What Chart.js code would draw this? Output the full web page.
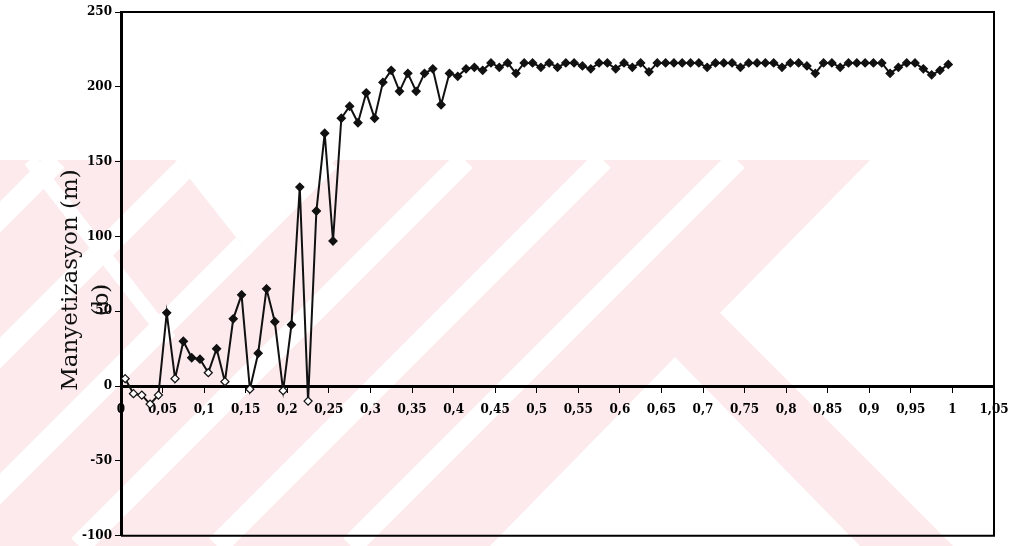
<!DOCTYPE html>
<html>
<head>
<meta charset="utf-8">
<script src="https://cdn.jsdelivr.net/npm/chart.js@4.4.0/dist/chart.umd.min.js"></script>
<style>
html, body { margin: 0; padding: 0; background: #fff; }
</style>
</head>
<body>
<canvas id="myChart" width="1012" height="546"></canvas>
<script>
// data (x = h, y = magnetization)
var xValues = [0.005, 0.015, 0.025, 0.035, 0.045, 0.055, 0.065, 0.075, 0.085, 0.095,
               0.105, 0.115, 0.125, 0.135, 0.145, 0.155, 0.165, 0.175, 0.185, 0.195,
               0.205, 0.215, 0.225, 0.235, 0.245, 0.255, 0.265, 0.275, 0.285, 0.295,
               0.305, 0.315, 0.325, 0.335, 0.345, 0.355, 0.365, 0.375, 0.385, 0.395,
               0.405, 0.415, 0.425, 0.435, 0.445, 0.455, 0.465, 0.475, 0.485, 0.495,
               0.505, 0.515, 0.525, 0.535, 0.545, 0.555, 0.565, 0.575, 0.585, 0.595,
               0.605, 0.615, 0.625, 0.635, 0.645, 0.655, 0.665, 0.675, 0.685, 0.695,
               0.705, 0.715, 0.725, 0.735, 0.745, 0.755, 0.765, 0.775, 0.785, 0.795,
               0.805, 0.815, 0.825, 0.835, 0.845, 0.855, 0.865, 0.875, 0.885, 0.895,
               0.905, 0.915, 0.925, 0.935, 0.945, 0.955, 0.965, 0.975, 0.985, 0.995];
var mValues = [5, -5, -6, -12, -6, 49, 5, 30, 19, 18,
               9, 25, 3, 45, 61, -2, 22, 65, 43, -3,
               41, 133, -10, 117, 169, 97, 179, 187, 176, 196,
               179, 203, 211, 197, 209, 197, 209, 212, 188, 209,
               207, 212, 213, 211, 216, 213, 216, 209, 216, 216,
               213, 216, 213, 216, 216, 214, 212, 216, 216, 212,
               216, 213, 216, 210, 216, 216, 216, 216, 216, 216,
               213, 216, 216, 216, 213, 216, 216, 216, 216, 213,
               216, 216, 214, 209, 216, 216, 213, 216, 216, 216,
               216, 216, 209, 213, 216, 216, 212, 208, 211, 215];
var yTitle = "Manyetizasyon (m)";
var panelLabel = "(b)";

function makePoints() {
    var pts = [];
    for (var i = 0; i < xValues.length; i++) {
        pts.push({x: xValues[i], y: mValues[i]});
    }
    return pts;
}

// hollow markers near zero, filled elsewhere
function markerFill() {
    var c = [];
    for (var i = 0; i < mValues.length; i++) {
        c.push(mValues[i] < 10 ? '#ffffff' : '#111111');
    }
    return c;
}

// pale thesis watermark behind the plot
var watermark = {
    id: 'watermark',
    beforeDraw: function(chart) {
        var ctx = chart.ctx;
        ctx.save();
        ctx.fillStyle = '#ffffff';
        ctx.fillRect(0, 0, chart.width, chart.height);
        ctx.beginPath();
        ctx.moveTo(0, 160); ctx.lineTo(175, 160); ctx.lineTo(250, 255); ctx.lineTo(335, 160);
        ctx.lineTo(870, 160); ctx.lineTo(720, 313); ctx.lineTo(953, 546); ctx.lineTo(860, 546);
        ctx.lineTo(675, 357); ctx.lineTo(490, 546); ctx.lineTo(0, 546);
        ctx.closePath();
        ctx.fillStyle = '#fceaed';
        ctx.fill();
        ctx.clip();
        ctx.strokeStyle = '#ffffff';
        ctx.lineWidth = 22;
        var cs = [217, 353, 489, 625, 763, 897];
        for (var k = 0; k < cs.length; k++) {
            ctx.beginPath();
            ctx.moveTo(cs[k] - 546, 546);
            ctx.lineTo(cs[k] - 160, 160);
            ctx.stroke();
        }
        ctx.lineWidth = 14;
        ctx.beginPath();
        ctx.moveTo(30, 160); ctx.lineTo(170, 340);
        ctx.stroke();
        ctx.restore();
    }
};

var extras = {
    id: 'extras',
    afterDraw: function(chart) {
        var ctx = chart.ctx;
        var a = chart.chartArea;
        ctx.save();
        ctx.strokeStyle = '#000';
        ctx.lineWidth = 2;
        ctx.beginPath();
        ctx.moveTo(a.left, a.top); ctx.lineTo(a.right, a.top);
        ctx.lineTo(a.right, a.bottom); ctx.lineTo(a.left, a.bottom);
        ctx.stroke();
        ctx.fillStyle = '#111';
        ctx.textAlign = 'center';
        ctx.textBaseline = 'middle';
        ctx.font = '23px "DejaVu Serif"';
        ctx.translate(71, 280);
        ctx.rotate(-Math.PI / 2);
        ctx.fillText(yTitle, 0, 0);
        ctx.restore();
        ctx.save();
        ctx.fillStyle = '#111';
        ctx.textAlign = 'center';
        ctx.textBaseline = 'middle';
        ctx.font = '23px "DejaVu Serif"';
        ctx.translate(102, 300);
        ctx.rotate(-Math.PI / 2);
        ctx.fillText(panelLabel, 0, 0);
        ctx.restore();
    }
};

var tickFont = {family: '"DejaVu Serif"', size: 12, weight: 'bold'};

var ctx = document.getElementById("myChart").getContext("2d");
var myChart = new Chart(ctx, {
    type: 'scatter',
    data: {
        datasets: [{
            data: makePoints(),
            showLine: true,
            borderColor: '#111',
            borderWidth: 2,
            pointStyle: 'rectRot',
            pointRadius: 4,
            pointBorderWidth: 1.3,
            pointBorderColor: '#111',
            pointBackgroundColor: markerFill()
        }]
    },
    options: {
        responsive: false,
        animation: false,
        devicePixelRatio: 1,
        layout: {padding: {left: 0, right: 18, top: 12, bottom: 9}},
        plugins: {legend: {display: false}, tooltip: {enabled: false}},
        scales: {
            x: {
                type: 'linear',
                position: {y: 0},
                min: 0,
                max: 1.05,
                afterFit: function(scale) { scale.paddingLeft = 0; scale.paddingRight = 0; },
                grid: {drawOnChartArea: false, drawTicks: true, tickLength: 5, color: '#000'},
                border: {color: '#000', width: 3},
                ticks: {
                    stepSize: 0.05,
                    autoSkip: false,
                    maxRotation: 0,
                    padding: 12,
                    color: '#000',
                    font: tickFont,
                    callback: function(v) {
                        return (Math.round(v * 100) / 100).toString().replace('.', ',');
                    }
                }
            },
            y: {
                min: -100,
                max: 250,
                afterFit: function(scale) { scale.width = 121; },
                grid: {drawOnChartArea: false, drawTicks: true, tickLength: 6, color: '#000'},
                border: {color: '#000', width: 3},
                ticks: {stepSize: 50, padding: 3, color: '#000', font: tickFont}
            }
        }
    },
    plugins: [watermark, extras]
});
</script>
</body>
</html>
